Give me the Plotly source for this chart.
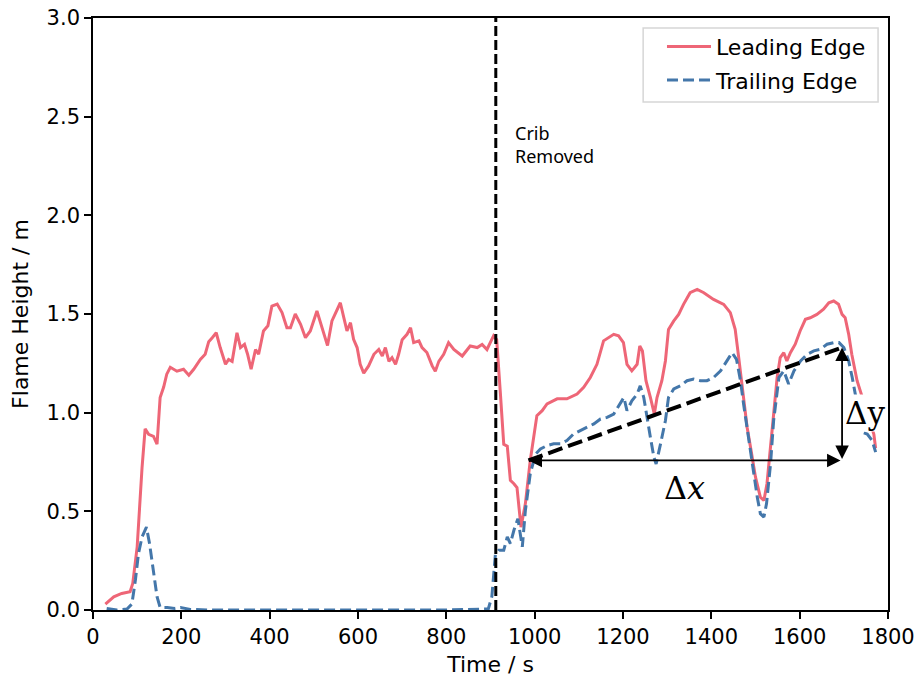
import plotly.graph_objects as go

# Flame height measurements (time in s, height in m)
leading_t = [28, 47, 65, 84, 90, 100, 111, 118, 126, 137, 145, 152, 160, 167, 175, 190, 205, 217, 228,
             243, 254, 262, 270, 279, 288, 300, 307, 315, 326, 334, 343, 350, 358, 368, 375, 386, 396,
             405, 417, 428, 439, 447, 458, 470, 481, 492, 507, 519, 531, 541, 553, 560, 568, 575, 583,
             590, 598, 605, 613, 624, 636, 647, 655, 662, 670, 677, 685, 692, 700, 711, 719, 726, 738,
             745, 756, 768, 775, 783, 794, 805, 817, 836, 854, 870, 881, 892, 907, 914, 922, 930, 938,
             945, 953, 960, 969, 979, 990, 998, 1005, 1017, 1028, 1051, 1073, 1096, 1111, 1126, 1141,
             1156, 1168, 1179, 1190, 1201, 1209, 1220, 1232, 1238, 1244, 1252, 1262, 1271, 1277, 1288,
             1296, 1303, 1315, 1326, 1337, 1352, 1368, 1383, 1405, 1428, 1443, 1454, 1462, 1469, 1481,
             1490, 1500, 1511, 1519, 1526, 1534, 1541, 1549, 1556, 1564, 1571, 1579, 1590, 1601, 1613,
             1624, 1639, 1654, 1666, 1677, 1688, 1696, 1703, 1711, 1718, 1730, 1768, 1772]
leading_h = [0.03, 0.067, 0.084, 0.093, 0.135, 0.32, 0.72, 0.918, 0.89, 0.88, 0.84, 1.077, 1.13, 1.195,
             1.23, 1.21, 1.22, 1.19, 1.22, 1.27, 1.296, 1.36, 1.38, 1.405, 1.33, 1.245, 1.27, 1.26,
             1.405, 1.33, 1.346, 1.296, 1.22, 1.32, 1.296, 1.414, 1.44, 1.54, 1.55, 1.507, 1.43, 1.43,
             1.5, 1.448, 1.38, 1.414, 1.515, 1.43, 1.34, 1.465, 1.52, 1.557, 1.48, 1.414, 1.456, 1.372,
             1.33, 1.245, 1.2, 1.237, 1.296, 1.32, 1.287, 1.33, 1.26, 1.279, 1.245, 1.296, 1.37, 1.397,
             1.43, 1.355, 1.364, 1.33, 1.305, 1.237, 1.21, 1.26, 1.296, 1.355, 1.32, 1.287, 1.338,
             1.33, 1.346, 1.32, 1.39, 1.37, 1.11, 0.84, 0.83, 0.657, 0.64, 0.62, 0.42, 0.539, 0.758,
             0.875, 0.985, 1.01, 1.044, 1.07, 1.07, 1.094, 1.128, 1.178, 1.245, 1.364, 1.38, 1.397,
             1.389, 1.355, 1.245, 1.212, 1.245, 1.338, 1.313, 1.162, 1.077, 0.993, 1.077, 1.162,
             1.262, 1.422, 1.465, 1.498, 1.549, 1.608, 1.625, 1.608, 1.574, 1.549, 1.507, 1.422,
             1.279, 1.145, 0.926, 0.808, 0.673, 0.572, 0.555, 0.64, 0.825, 1.01, 1.178, 1.279, 1.304,
             1.262, 1.304, 1.347, 1.414, 1.473, 1.481, 1.498, 1.524, 1.557, 1.566, 1.549, 1.498,
             1.481, 1.397, 1.296, 1.162, 0.89, 0.82]

trailing_t = [31, 54, 77, 88, 96, 103, 111, 121, 128, 137, 145, 152, 168, 185, 198, 220, 260, 400, 600,
              800, 895, 903, 911, 919, 930, 938, 945, 953, 962, 972, 979, 990, 1002, 1013, 1028, 1043,
              1058, 1073, 1088, 1104, 1119, 1134, 1149, 1164, 1179, 1190, 1202, 1209, 1220, 1232, 1239,
              1247, 1254, 1262, 1270, 1275, 1285, 1296, 1303, 1315, 1330, 1345, 1360, 1375, 1390, 1405,
              1421, 1436, 1447, 1457, 1466, 1473, 1481, 1492, 1504, 1511, 1519, 1525, 1534, 1541, 1553,
              1564, 1575, 1587, 1602, 1617, 1632, 1647, 1662, 1677, 1689, 1700, 1711, 1719, 1742, 1753,
              1764, 1772]
trailing_h = [0.008, 0.0, 0.005, 0.03, 0.152, 0.286, 0.37, 0.42, 0.337, 0.186, 0.067, 0.013, 0.013,
              0.008, 0.013, 0.003, 0.0, 0.0, 0.0, 0.0, 0.005, 0.067, 0.28, 0.303, 0.303, 0.37, 0.337,
              0.404, 0.463, 0.32, 0.505, 0.69, 0.79, 0.816, 0.833, 0.842, 0.842, 0.859, 0.892, 0.909,
              0.926, 0.943, 0.968, 0.976, 0.993, 1.035, 1.077, 1.01, 1.06, 1.094, 1.136, 1.077, 0.976,
              0.875, 0.774, 0.74, 0.842, 0.959, 1.077, 1.12, 1.136, 1.162, 1.17, 1.162, 1.162, 1.178,
              1.212, 1.262, 1.304, 1.27, 1.162, 1.044, 0.926, 0.74, 0.572, 0.488, 0.471, 0.539, 0.74,
              0.959, 1.178, 1.212, 1.145, 1.212, 1.262, 1.296, 1.313, 1.321, 1.347, 1.355, 1.355, 1.33,
              1.262, 1.178, 0.9, 0.892, 0.859, 0.8]

crib_removed_t = 912
# Gradient construction: start and end points of the rising trend
grad_t = [986, 1696]
grad_h = [0.758, 1.33]

RED = "#EE6677"
BLUE = "#4477AA"
FONT = "DejaVu Sans"

fig = go.Figure()
fig.add_trace(go.Scatter(x=leading_t, y=leading_h, mode="lines", name="Leading Edge",
                         legendgroup="lead", line=dict(color=RED, width=3)))
fig.add_trace(go.Scatter(x=trailing_t, y=trailing_h, mode="lines", name="Trailing Edge",
                         legendgroup="trail", line=dict(color=BLUE, width=3, dash="11px,5px")))
fig.add_trace(go.Scatter(x=grad_t, y=grad_h, mode="lines", showlegend=False, hoverinfo="skip",
                         line=dict(color="black", width=4, dash="15px,6px")))

fig.add_shape(type="line", xref="x", yref="paper", x0=crib_removed_t, x1=crib_removed_t, y0=0, y1=1,
              line=dict(color="black", width=3, dash="10px,4px"), layer="above")
# Frame around the legend entries
fig.add_shape(type="rect", xref="paper", yref="paper", x0=0.692, x1=0.9875, y0=0.858, y1=0.983,
              line=dict(color="#d6d6d6", width=1.5), fillcolor="white", layer="below")

annotations = [
    dict(x=crib_removed_t + 40, y=2.49, xref="x", yref="y", text="Crib<br>Removed", showarrow=False,
         xanchor="left", yanchor="top", align="left", font=dict(family="Noto Sans", size=18, color="black")),
    # Δx double arrow
    dict(x=grad_t[0], y=grad_h[0], ax=grad_t[1], ay=grad_h[0], xref="x", yref="y", axref="x", ayref="y",
         text="", showarrow=True, arrowhead=2, startarrowhead=2, arrowside="end+start",
         arrowwidth=1.8, arrowsize=1.5, startarrowsize=1.5, arrowcolor="black"),
    # Δy double arrow
    dict(x=grad_t[1], y=grad_h[1], ax=grad_t[1], ay=grad_h[0], xref="x", yref="y", axref="x", ayref="y",
         text="", showarrow=True, arrowhead=2, startarrowhead=2, arrowside="end+start",
         arrowwidth=1.8, arrowsize=1.5, startarrowsize=1.5, arrowcolor="black"),
    dict(x=1340, y=0.62, xref="x", yref="y", text="Δ<i>x</i>", showarrow=False,
         font=dict(family="DejaVu Serif", size=32, color="black")),
    dict(x=1748, y=1.0, xref="x", yref="y", text="Δy", showarrow=False, bgcolor="white",
         borderpad=0, font=dict(family="DejaVu Serif", size=31, color="black")),
]

axis_common = dict(showline=True, linecolor="black", linewidth=1.6, mirror=True, ticks="outside",
                   ticklen=7, tickwidth=1.6, tickcolor="black", showgrid=False, zeroline=False,
                   automargin=False, tickfont=dict(family=FONT, size=21, color="black"))

fig.update_layout(
    width=919, height=677,
    margin=dict(l=93, r=31, t=18, b=67),
    plot_bgcolor="white", paper_bgcolor="white",
    font=dict(family=FONT, size=21, color="black"),
    xaxis=dict(range=[0, 1800], tickvals=[0, 200, 400, 600, 800, 1000, 1200, 1400, 1600, 1800],
               title=dict(text="Time / s", font=dict(family=FONT, size=22), standoff=12), **axis_common),
    yaxis=dict(range=[0, 3.0], tickvals=[0, 0.5, 1.0, 1.5, 2.0, 2.5, 3.0], tickformat=".1f",
               title=dict(text="Flame Height / m", font=dict(family=FONT, size=22), standoff=12),
               **axis_common),
    legend=dict(x=0.7157, y=0.987, xanchor="left", yanchor="top", bgcolor="rgba(0,0,0,0)",
                borderwidth=0, itemwidth=44, traceorder="grouped", tracegroupgap=2,
                font=dict(family=FONT, size=22, color="black")),
    annotations=annotations,
    showlegend=True,
)

fig.write_html("out.html")
